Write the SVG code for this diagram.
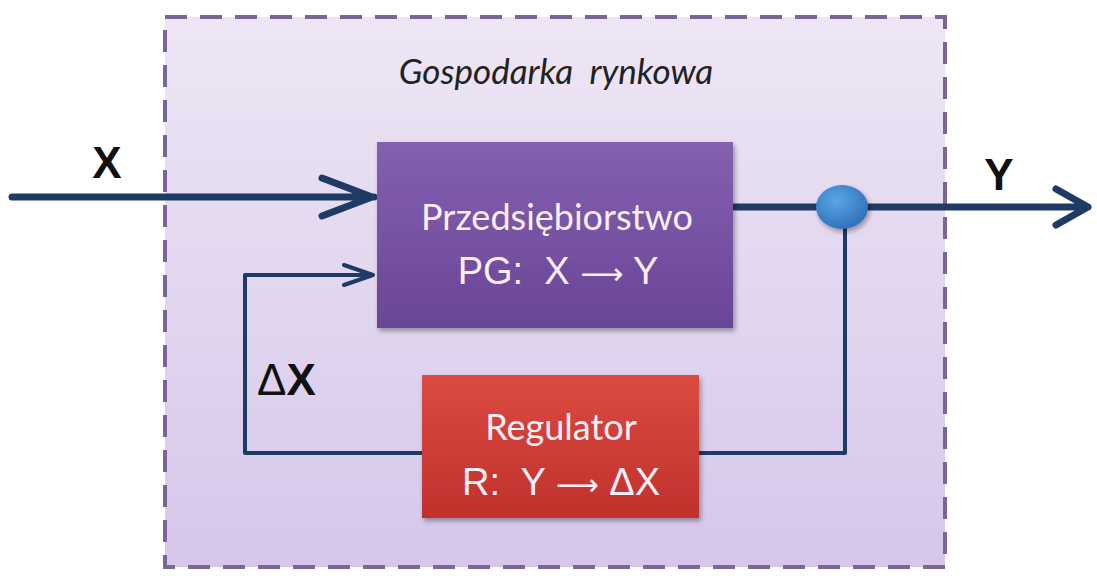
<svg xmlns="http://www.w3.org/2000/svg" width="1097" height="576" viewBox="0 0 1097 576">
<defs>
<linearGradient id="bg" x1="0" y1="0" x2="0" y2="1"><stop offset="0" stop-color="#eee6f5"/><stop offset="1" stop-color="#d6c7ea"/></linearGradient>
<linearGradient id="pg" x1="0" y1="0" x2="0" y2="1"><stop offset="0" stop-color="#8460b0"/><stop offset="1" stop-color="#6a4597"/></linearGradient>
<linearGradient id="rg" x1="0" y1="0" x2="0" y2="1"><stop offset="0" stop-color="#dc4a42"/><stop offset="1" stop-color="#c0312c"/></linearGradient>
<radialGradient id="cg" cx="0.4" cy="0.35" r="0.7"><stop offset="0" stop-color="#5aa6e6"/><stop offset="1" stop-color="#2d6fb8"/></radialGradient>
<filter id="sh" x="-10%" y="-10%" width="125%" height="125%"><feDropShadow dx="2" dy="3" stdDeviation="2.5" flood-color="#000" flood-opacity="0.35"/></filter>
</defs>
<style>
.lbl{font-family:"Liberation Sans",Arial,sans-serif;font-weight:bold;fill:#111;}
.wt{font-family:Lato,"Open Sans",sans-serif;fill:#fbeef6;text-anchor:middle;}
.wa{font-family:"Liberation Sans",Arial,sans-serif;fill:#fbeef6;text-anchor:middle;}
.ar{font-family:"DejaVu Sans",sans-serif;}
.ln{stroke:#1f3a64;fill:none;stroke-linecap:round;stroke-linejoin:round;}
</style>
<rect width="1097" height="576" fill="#fff"/>
<g id="gospodarka">
<rect x="165" y="17" width="780" height="550" fill="url(#bg)" stroke="#7a6596" stroke-width="4" stroke-dasharray="22,13"/>
<text x="556" y="84" font-family="Lato,'Open Sans',sans-serif" font-style="italic" font-size="35" fill="#222" text-anchor="middle" xml:space="preserve">Gospodarka  rynkowa</text>
</g>
<g id="connectors">
<path class="ln" stroke-width="7" d="M12 197 H374 M322 178 L372 197 L322 216"/>
<path class="ln" stroke-width="4" d="M422 453 H245 V275 H373 M344 265 L373 275 L344 285"/>
<path class="ln" stroke-width="4" d="M699 453 H845 V210"/>
<path class="ln" stroke-width="7" d="M733 207 H1088 M1056 189 L1088 207 L1056 225"/>
</g>
<g id="junction">
<ellipse cx="842" cy="207" rx="26" ry="22" fill="url(#cg)" filter="url(#sh)"/>
</g>
<g id="przedsiebiorstwo">
<rect x="377" y="142" width="356" height="186" fill="url(#pg)" filter="url(#sh)"/>
<text class="wt" x="557" y="230" font-size="36">Przedsiębiorstwo</text>
<text class="wa" x="558" y="284" font-size="38" xml:space="preserve">PG:  X <tspan class="ar" font-size="30">⟶</tspan> Y</text>
</g>
<g id="regulator">
<rect x="422" y="375" width="277" height="143" fill="url(#rg)" filter="url(#sh)"/>
<text class="wt" x="561" y="440" font-size="36">Regulator</text>
<text class="wa" x="561" y="495" font-size="38" xml:space="preserve">R:  Y <tspan class="ar" font-size="30">⟶</tspan> ΔX</text>
</g>
<g id="labels">
<text class="lbl" x="107" y="178" font-size="44" text-anchor="middle">X</text>
<text class="lbl" x="999" y="190" font-size="44" text-anchor="middle">Y</text>
<text x="257" y="395" font-size="44" font-family="Liberation Sans,Arial,sans-serif" fill="#111">Δ<tspan font-weight="bold">X</tspan></text>
</g>
</svg>
